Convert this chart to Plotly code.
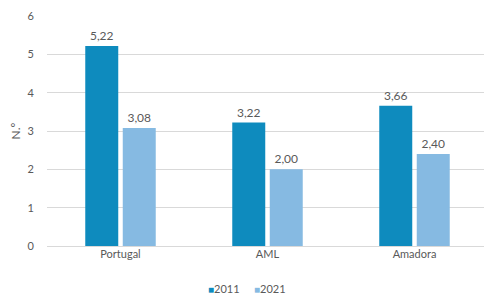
import plotly.graph_objects as go

categories = ["Portugal", "AML", "Amadora"]
values_2011 = [5.22, 3.22, 3.66]
values_2021 = [3.08, 2.00, 2.40]
series_names = ["2011", "2021"]
y_ticks = [0, 1, 2, 3, 4, 5, 6]

def fmt(v):
    return f"{v:.2f}".replace(".", ",")

colors = ["#0E8BBE", "#86BAE2"]
font_family = "Lato, 'Open Sans', sans-serif"
gray = "#595959"

fig = go.Figure()
for name, vals, col in zip(series_names, [values_2011, values_2021], colors):
    fig.add_trace(go.Bar(
        x=categories, y=vals, name=name,
        marker=dict(color=col, line=dict(color="rgba(255,255,255,0)", width=6)),
        text=[fmt(v) for v in vals], textposition="outside",
        textfont=dict(color=gray, size=12, family=font_family),
        cliponaxis=False,
    ))

# legend drawn as text entries below the plot
legend_x = [0.401, 0.506]
for name, col, lx in zip(series_names, colors, legend_x):
    fig.add_annotation(
        xref="paper", yref="paper", x=lx, y=-0.185, xanchor="center", yanchor="middle",
        showarrow=False,
        text=f"<span style='color:{col};font-size:10px'>■</span>{name}",
        font=dict(size=11, color=gray, family=font_family),
    )

# page body adds an 8px offset; compensate in size/margins
fig.update_layout(
    width=484, height=288,
    margin=dict(l=39, r=4, t=8, b=50, autoexpand=False),
    barmode="group", bargap=0.49, bargroupgap=0.12,
    plot_bgcolor="white", paper_bgcolor="white",
    font=dict(family=font_family, color=gray, size=11),
    showlegend=False,
    xaxis=dict(showgrid=False, showline=False, ticks="", automargin=False,
               tickfont=dict(size=11, color=gray)),
    yaxis=dict(range=[0, 6], tickvals=y_ticks, showgrid=True, gridcolor="#D9D9D9",
               gridwidth=1, zeroline=True, zerolinecolor="#D9D9D9", zerolinewidth=1,
               automargin=False,
               tickfont=dict(size=11, color=gray), ticklabelstandoff=12,
               title=dict(text="N.º", font=dict(size=12, color=gray), standoff=8)),
)

fig.write_html("out.html")
